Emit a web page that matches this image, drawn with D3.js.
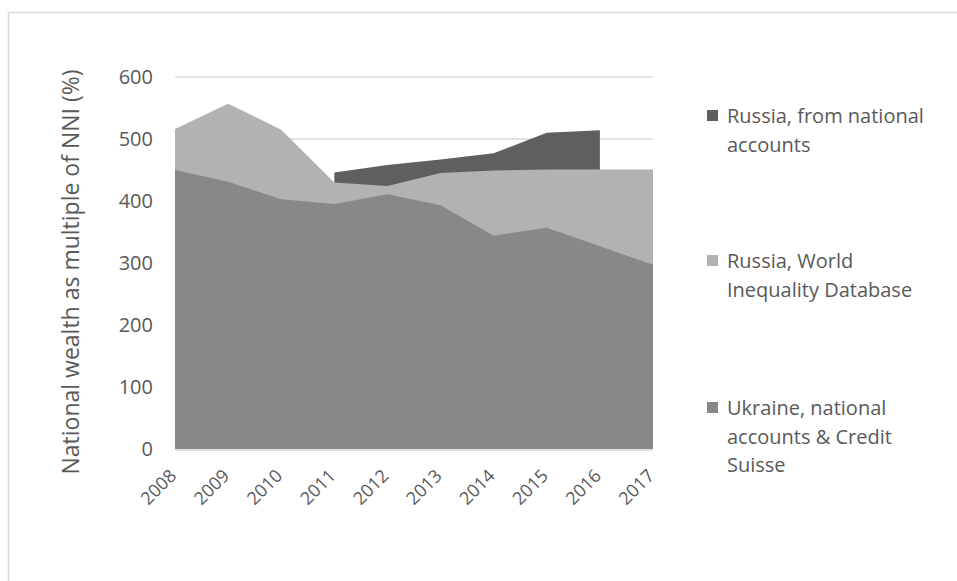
<!DOCTYPE html>
<html>
<head>
<meta charset="utf-8">
<script src="https://cdn.jsdelivr.net/npm/d3@7"></script>
<style>
  html, body { margin: 0; padding: 0; background: #fff; }
  svg { display: block; font-family: "Open Sans", Lato, sans-serif; }
</style>
</head>
<body>
<svg id="chart" width="957" height="581"></svg>
<script>
// Years on the x axis
const years = [2008, 2009, 2010, 2011, 2012, 2013, 2014, 2015, 2016, 2017];

// National wealth as % of NNI
const russiaNational = [null, null, null, 446, 458, 467, 477, 510, 514, null];
const russiaWID      = [516, 557, 515, 430, 424, 445, 449, 451, 451, 451];
const ukraine        = [450, 431, 403, 395, 411, 393, 344, 357, 327, 297];

const yTicks = [0, 100, 200, 300, 400, 500, 600];

const seriesNames = [
  ["Russia, from national", "accounts"],
  ["Russia, World", "Inequality Database"],
  ["Ukraine, national", "accounts & Credit", "Suisse"]
];
const seriesColors = ["#5f5f5f", "#b2b2b2", "#888888"];

const FONT = "'Open Sans', Lato, sans-serif";
const TEXT = "#595959";

const svg = d3.select("#chart");

// outer frame
svg.append("path")
  .attr("d", "M8.5,581 V12.5 H957")
  .attr("fill", "none")
  .attr("stroke", "#d9d9d9")
  .attr("stroke-width", 1.5);

const x = d3.scalePoint().domain(years).range([175, 653]);
const y = d3.scaleLinear().domain([0, 600]).range([449, 77]);

// gridlines
svg.append("g")
  .selectAll("line")
  .data(yTicks.filter(t => t > 0))
  .join("line")
  .attr("x1", 175).attr("x2", 653)
  .attr("y1", d => y(d)).attr("y2", d => y(d))
  .attr("stroke", "#d9d9d9").attr("stroke-width", 1.5);

const area = d3.area()
  .defined(d => d[1] != null)
  .x(d => x(d[0]))
  .y0(y(0))
  .y1(d => y(d[1]));

// areas overlap (not stacked); later series are drawn on top
const seriesData = [russiaNational, russiaWID, ukraine];
seriesData.forEach((vals, i) => {
  svg.append("path")
    .datum(years.map((yr, j) => [yr, vals[j]]))
    .attr("d", area)
    .attr("fill", seriesColors[i]);
});

// baseline
svg.append("line")
  .attr("x1", 175).attr("x2", 653)
  .attr("y1", y(0) + 1).attr("y2", y(0) + 1)
  .attr("stroke", "#d9d9d9").attr("stroke-width", 1.5);

// y axis labels
const yAxis = d3.axisLeft(y).tickValues(yTicks).tickSize(0).tickPadding(22);
const gy = svg.append("g").attr("transform", "translate(175,0)").call(yAxis);
gy.select(".domain").remove();
gy.selectAll("text")
  .attr("fill", TEXT)
  .style("font-size", "20px")
  .style("font-family", FONT);

// x axis labels, rotated
const xAxis = d3.axisBottom(x).tickSize(0).tickPadding(0);
const gx = svg.append("g").attr("transform", "translate(0," + (y(0) + 12) + ")").call(xAxis);
gx.select(".domain").remove();
gx.selectAll("text")
  .attr("fill", TEXT)
  .style("font-size", "18px")
  .style("font-family", FONT)
  .attr("text-anchor", "end")
  .attr("dy", "0.7em")
  .attr("transform", "translate(-7,7) rotate(-45)");

// y axis title
svg.append("text")
  .attr("transform", "translate(79,272) rotate(-90)")
  .attr("text-anchor", "middle")
  .attr("fill", TEXT)
  .style("font-size", "23px")
  .text("National wealth as multiple of NNI (%)");

// legend
const legendTops = [123, 268, 415];
seriesNames.forEach((lines, i) => {
  const g = svg.append("g");
  g.append("rect")
    .attr("x", 707).attr("y", legendTops[i] - 13)
    .attr("width", 11).attr("height", 11)
    .attr("fill", seriesColors[i]);
  lines.forEach((ln, k) => {
    g.append("text")
      .attr("x", 727).attr("y", legendTops[i] + k * 28.7)
      .attr("fill", TEXT)
      .style("font-size", "20px")
      .text(ln);
  });
});
</script>
</body>
</html>
